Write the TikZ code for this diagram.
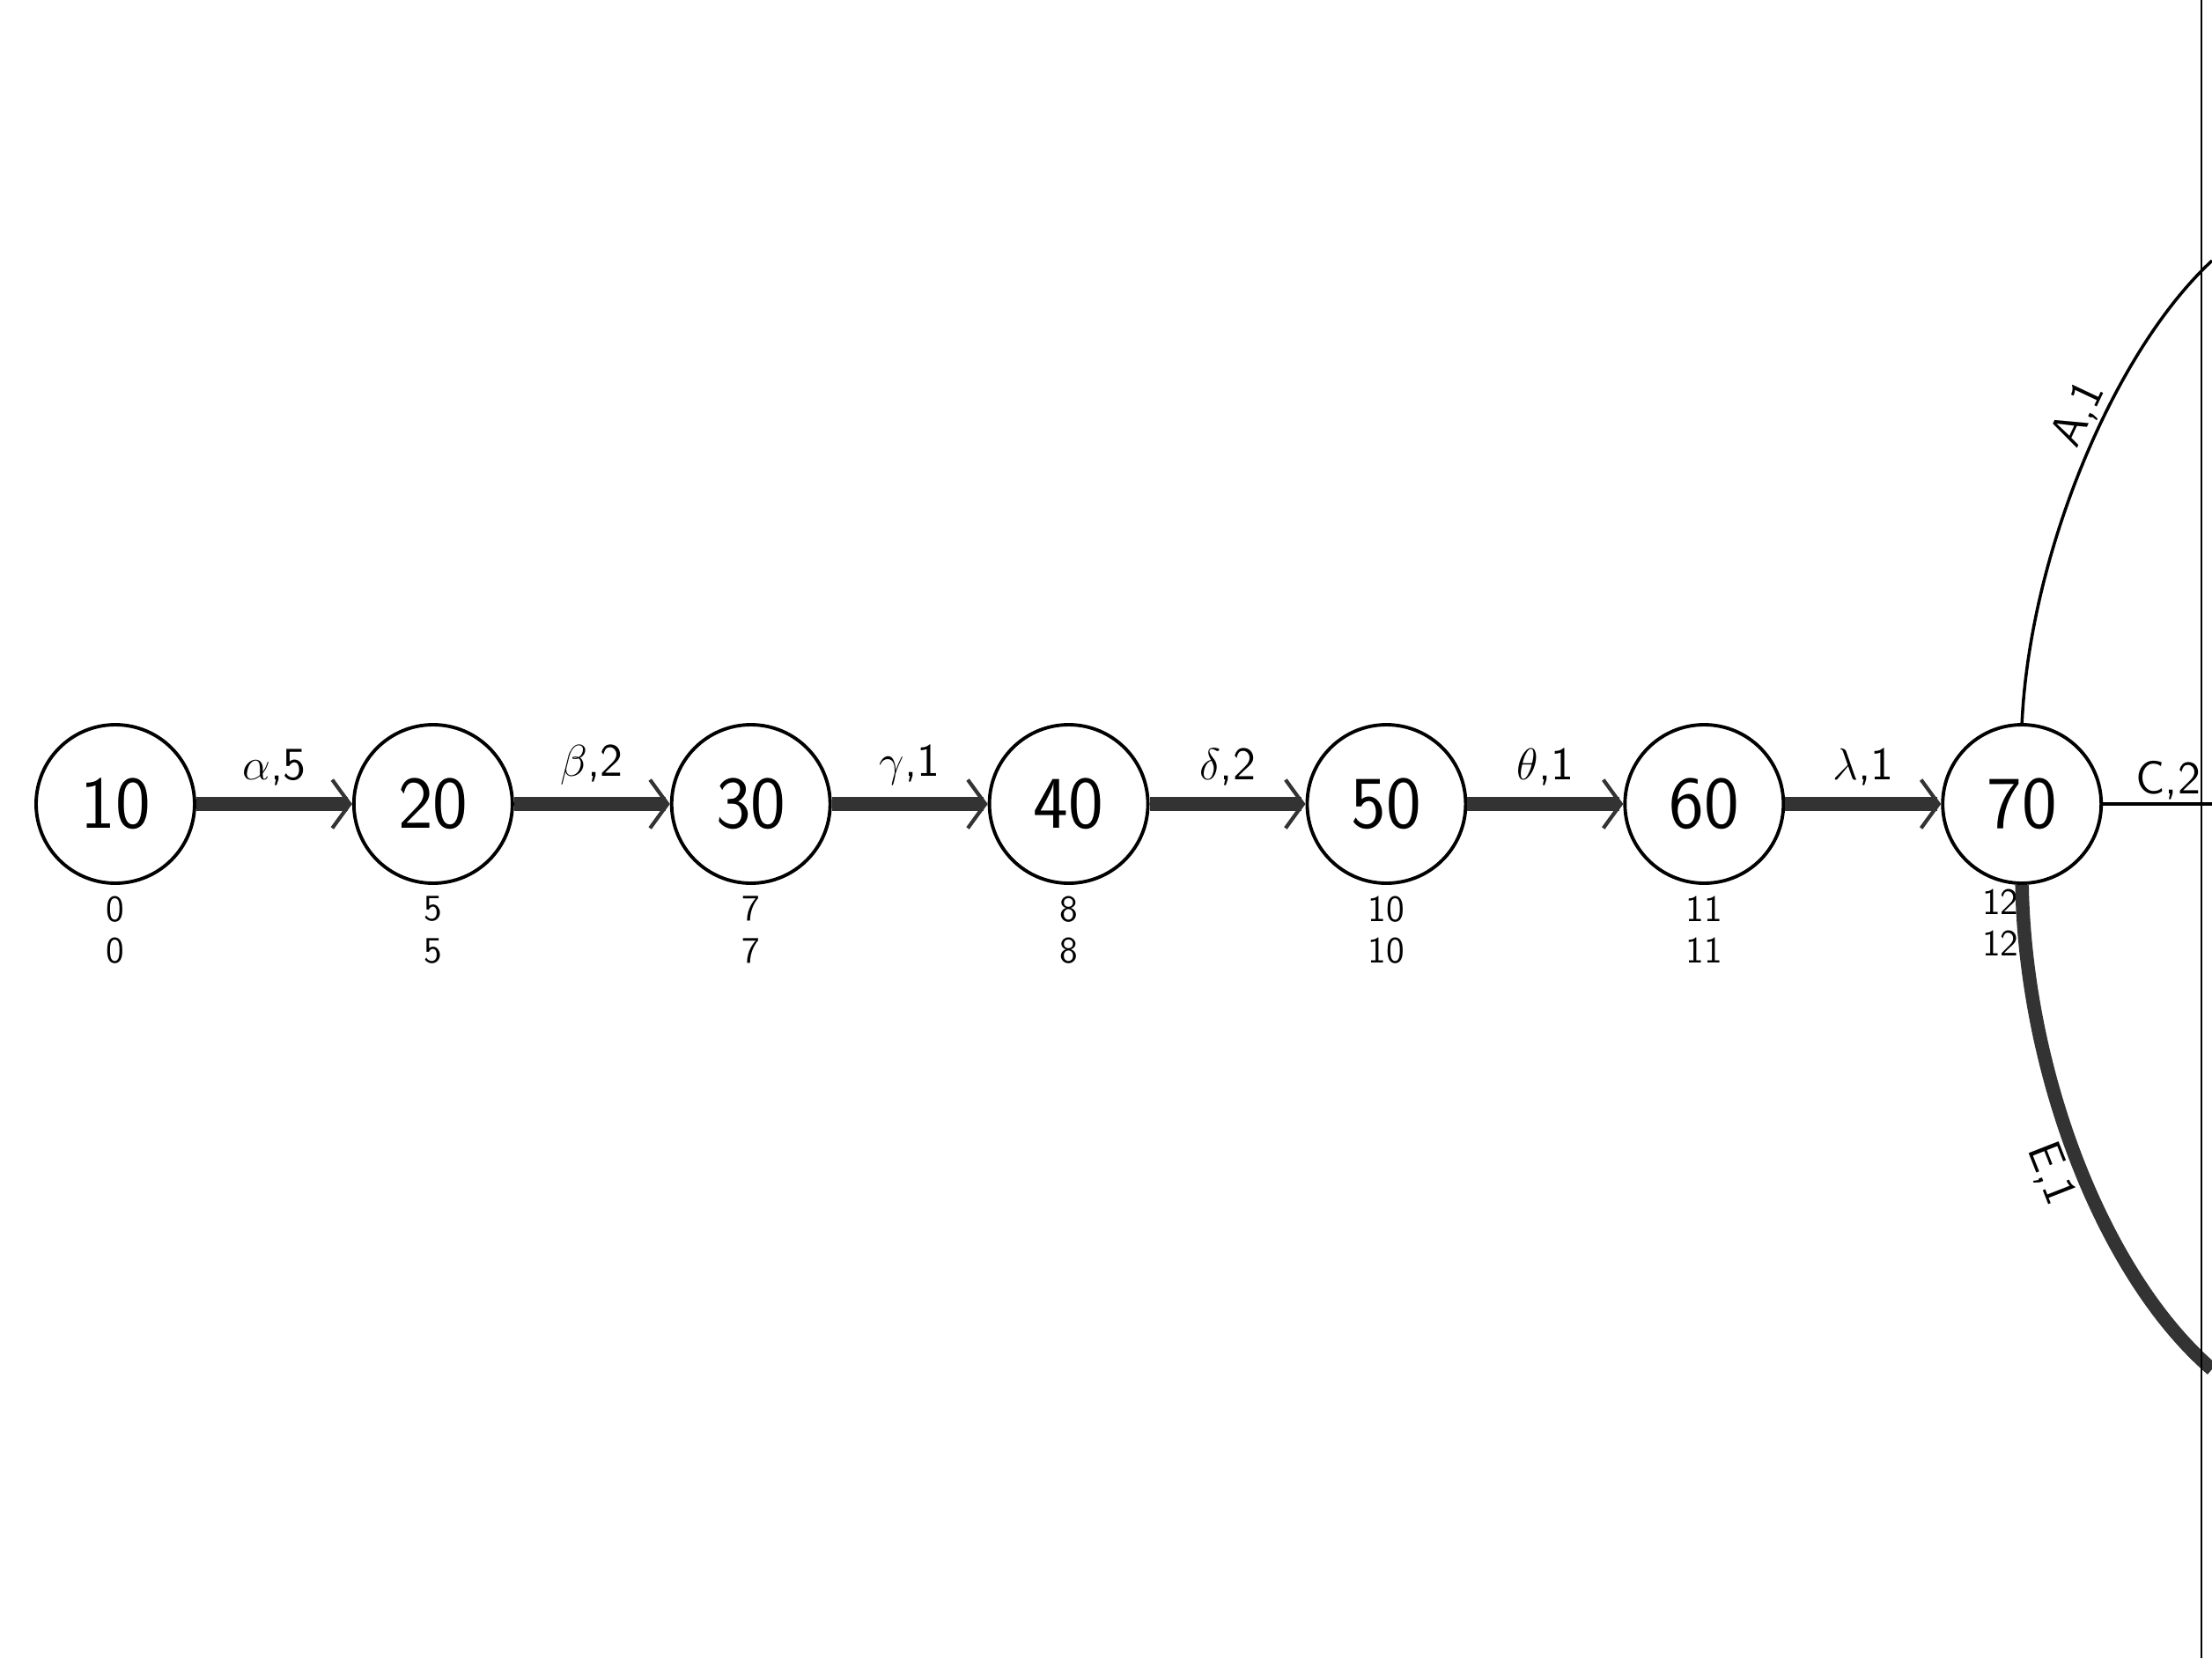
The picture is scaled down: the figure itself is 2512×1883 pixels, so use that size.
\documentclass[tikz,border=0pt]{standalone}
\usepackage{amsmath,amssymb}
\usetikzlibrary{positioning,arrows.meta}

\begin{document}
\begin{tikzpicture}[
  x=0.1mm,y=-0.1mm,
  node distance=17.7mm,
  event/.style={circle,draw,line width=1.1pt,minimum size=18mm,inner sep=0pt,font=\sffamily\fontsize{24}{24}\selectfont},
  times/.style={align=center,inner sep=0pt,font=\sffamily\fontsize{12}{13.6}\selectfont},
  crit/.style={line width=4.4pt,draw=black!80,-{Straight Barb[length=2mm,width=5.5mm,line width=1.2pt]}},
  act/.style={line width=1pt},
  elabel/.style={font=\sffamily\fontsize{15}{15}\selectfont,inner sep=1pt}
]
  \useasboundingbox (0,0) rectangle (2512,1883);

  % events on the critical path
  \node[event] (n10) at (131,913) {10};
  \node[event,right=of n10] (n20) {20};
  \node[event,right=of n20] (n30) {30};
  \node[event,right=of n30] (n40) {40};
  \node[event,right=of n40] (n50) {50};
  \node[event,right=of n50] (n60) {60};
  \node[event,right=of n60] (n70) {70};

  % earliest / latest times
  \node[times,below=1.2mm of n10] (t10) {0\\0};
  \node[times,below=1.2mm of n20] (t20) {5\\5};
  \node[times,below=1.2mm of n30] (t30) {7\\7};
  \node[times,below=1.2mm of n40] (t40) {8\\8};
  \node[times,below=1.2mm of n50] (t50) {10\\10};
  \node[times,below=1.2mm of n60] (t60) {11\\11};
  \node[times,anchor=north east] (t70) at ([xshift=-0.3mm,yshift=-0.4mm]n70.south) {12\\12};

  \draw[crit] (n10) -- node[elabel,above=1mm] {$\alpha$,5} (n20);
  \draw[crit] (n20) -- node[elabel,above=1mm] {$\beta$,2} (n30);
  \draw[crit] (n30) -- node[elabel,above=1mm] {$\gamma$,1} (n40);
  \draw[crit] (n40) -- node[elabel,above=1mm] {$\delta$,2} (n50);
  \draw[crit] (n50) -- node[elabel,above=1mm] {$\theta$,1} (n60);
  \draw[crit] (n60) -- node[elabel,above=1mm] {$\lambda$,1} (n70);

  % activities leaving 70
  \coordinate (aEnd) at (2512,296);
  \coordinate (cEnd) at (2512,913);
  \coordinate (eEnd) at (2512,1555);
  \draw[act] (n70.north) .. controls (2305,630) and (2400,400) .. node[elabel,sloped,above,pos=0.58] {A,1} (aEnd);
  \draw[act] (n70.east) -- node[elabel,above,pos=0.6] {C,2} (cEnd);
  \draw[line width=4.4pt,draw=black!80] (n70.south) .. controls (2300,1220) and (2390,1450) .. node[elabel,sloped,below,pos=0.5] {E,1} (eEnd);

  % edge of the sheet
  \draw[line width=0.8pt] (2500,0) -- (2500,1883);
\end{tikzpicture}
\end{document}
